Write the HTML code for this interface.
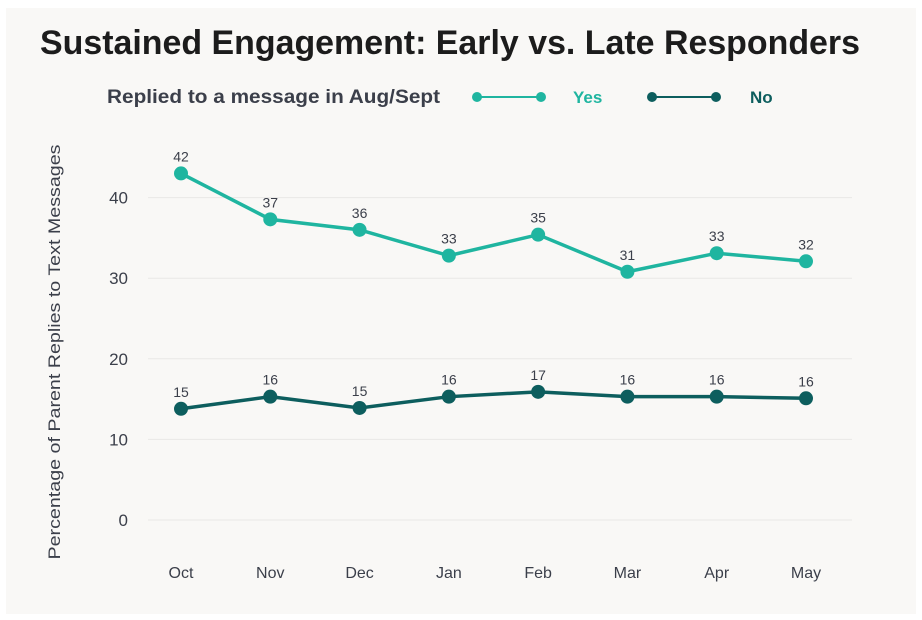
<!DOCTYPE html>
<html><head><meta charset="utf-8"><style>
html,body{margin:0;padding:0;background:#fff;width:922px;height:620px;overflow:hidden}
svg{display:block;font-family:"Liberation Sans",sans-serif}
</style></head><body>
<svg id="chart" width="922" height="620">
<rect x="6" y="8" width="910" height="606" fill="#f9f8f6"/>
<text x="40" y="54" textLength="820" lengthAdjust="spacingAndGlyphs" font-size="34" font-weight="bold" fill="#1c1c1c">Sustained Engagement: Early vs. Late Responders</text>
<g>
<text x="107" y="103" textLength="333" lengthAdjust="spacingAndGlyphs" font-size="19" font-weight="bold" fill="#3b3f4a">Replied to a message in Aug/Sept</text>
<g>
<line x1="477" y1="97" x2="541" y2="97" stroke="#1fb5a0" stroke-width="2"/>
<circle cx="477" cy="97" r="5" fill="#1fb5a0"/><circle cx="541" cy="97" r="5" fill="#1fb5a0"/>
<text x="573" y="103" font-size="17" font-weight="bold" fill="#1fb5a0">Yes</text></g>
<g>
<line x1="652" y1="97" x2="716" y2="97" stroke="#0d5e5e" stroke-width="2"/>
<circle cx="652" cy="97" r="5" fill="#0d5e5e"/><circle cx="716" cy="97" r="5" fill="#0d5e5e"/>
<text x="750" y="103" font-size="17" font-weight="bold" fill="#0d5e5e">No</text></g>
</g>
<text transform="translate(60,352) rotate(-90)" text-anchor="middle" textLength="415" lengthAdjust="spacingAndGlyphs" font-size="17" fill="#3b3f4a">Percentage of Parent Replies to Text Messages</text>
<g id="grid"></g><g id="marks"></g>
</svg>
<script>
const categories=["Oct","Nov","Dec","Jan","Feb","Mar","Apr","May"];
const yesValues=[43.0,37.3,36.0,32.8,35.4,30.8,33.1,32.1];
const yesLabels=["42","37","36","33","35","31","33","32"];
const noValues=[13.8,15.3,13.9,15.3,15.9,15.3,15.3,15.1];
const noLabels=["15","16","15","16","17","16","16","16"];
const yTicks=[0,10,20,30,40];
const NS="http://www.w3.org/2000/svg";
function x(i){return 181+i*(806-181)/(categories.length-1);}
function y(v){return 520-v*8.06;}
function mk(t,a,p){const e=document.createElementNS(NS,t);for(const k in a)e.setAttribute(k,a[k]);p.appendChild(e);return e;}
const grid=document.getElementById('grid'),marks=document.getElementById('marks');
yTicks.forEach(t=>{
 const l=mk('line',{x1:148,x2:852,y1:y(t),y2:y(t),stroke:'#e9e8e6','stroke-width':1},grid);
 
 
 const tx=mk('text',{x:128,y:y(t)+6,'text-anchor':'end','font-size':17,fill:'#3b3f4a'},grid);tx.textContent=t;
 
 
});
categories.forEach((c,i)=>{
 const tx=mk('text',{x:x(i),y:578,'text-anchor':'middle','font-size':16,fill:'#3b3f4a'},grid);tx.textContent=c;
 
 
});
function series(vals,labels,color,name){
 const p=mk('polyline',{points:vals.map((v,i)=>x(i)+','+y(v)).join(' '),fill:'none',stroke:color,'stroke-width':3.5},marks);
 
 
 vals.forEach((v,i)=>{
  const c=mk('circle',{cx:x(i),cy:y(v),r:7,fill:color},marks);
  
  
  const t=mk('text',{x:x(i),y:y(v)-12,'text-anchor':'middle','font-size':14,fill:'#3b3f4a'},marks);t.textContent=labels[i];
  
  
 });
}
series(yesValues,yesLabels,'#1fb5a0','yes');
series(noValues,noLabels,'#0d5e5e','no');
</script>
</body></html>
